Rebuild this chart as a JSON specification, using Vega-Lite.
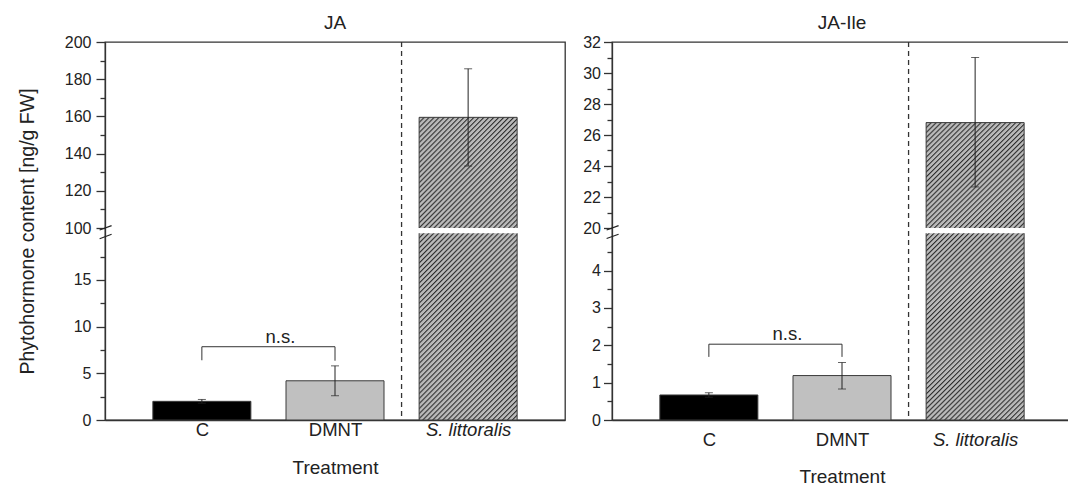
{
"$schema": "https://vega.github.io/schema/vega-lite/v6.json",
"padding": {"left": 16, "top": 13, "right": 0, "bottom": 0},
"spacing": 16,
"datasets": {
 "bars": [
  {"hormone":"JA","treatment":"C","pos":1,"mean":2.0,"lo":1.8,"hi":2.2},
  {"hormone":"JA","treatment":"DMNT","pos":2,"mean":4.2,"lo":2.6,"hi":5.8},
  {"hormone":"JA","treatment":"S. littoralis","pos":3,"mean":159.5,"lo":133.3,"hi":185.6},
  {"hormone":"JA-Ile","treatment":"C","pos":1,"mean":0.67,"lo":0.61,"hi":0.73},
  {"hormone":"JA-Ile","treatment":"DMNT","pos":2,"mean":1.19,"lo":0.83,"hi":1.54},
  {"hormone":"JA-Ile","treatment":"S. littoralis","pos":3,"mean":26.8,"lo":22.65,"hi":31.0}
 ],
 "bracket": [
  {"hormone":"JA","px":1,"py":6.4,"ord":1},{"hormone":"JA","px":1,"py":7.85,"ord":2},{"hormone":"JA","px":2,"py":7.85,"ord":3},{"hormone":"JA","px":2,"py":6.35,"ord":4},
  {"hormone":"JA-Ile","px":1,"py":1.69,"ord":1},{"hormone":"JA-Ile","px":1,"py":2.03,"ord":2},{"hormone":"JA-Ile","px":2,"py":2.03,"ord":3},{"hormone":"JA-Ile","px":2,"py":1.69,"ord":4}
 ],
 "notes": [
  {"hormone":"JA","lx":1.59,"ly":8.2,"txt":"n.s."},
  {"hormone":"JA-Ile","lx":1.59,"ly":2.14,"txt":"n.s."}
 ],
 "breaks": [
  {"hormone":"JA","bx":0.232,"bx2":0.322,"by":69.8,"by2":101.3},
  {"hormone":"JA","bx":0.232,"bx2":0.322,"by":19.42,"by2":19.9},
  {"hormone":"JA-Ile","bx":0.232,"bx2":0.322,"by":14.34,"by2":20.15},
  {"hormone":"JA-Ile","bx":0.232,"bx2":0.322,"by":4.86,"by2":4.975}
 ]
},
"config": {
 "font": "Liberation Sans",
 "view": {"stroke": "#333333", "strokeWidth": 1.3},
 "axis": {"domainColor":"#333333","domainWidth":1.3,"tickColor":"#333333","tickWidth":1.3,"labelColor":"#222222","titleColor":"#222222","titleFontWeight":"normal","grid":false,"labelFont":"Liberation Sans","titleFont":"Liberation Sans","labelOverlap":false,"labelFlush":false},
 "title": {"fontSize":19,"fontWeight":"normal","color":"#222222","font":"Liberation Sans","offset":1}
},
"hconcat": [
 {
  "width": 460, "height": 378,
  "title": {"text": "JA"},
  "resolve": {"axis": {"y": "independent"}},
  "layer": [
   {"data": {"values": [{}]}, "mark": {"type": "rule", "strokeDash": [5, 4], "color": "#333333", "strokeWidth": 1.3}, "encoding": {"x": {"datum": 2.5, "type": "quantitative"}}},
   {"data": {"name": "bars"}, "transform": [{"filter": "datum.hormone == 'JA' && datum.pos < 3"}],
    "mark": {"type": "bar", "orient": "vertical", "width": 98, "stroke": "#3a3a3a", "strokeWidth": 1},
    "encoding": {
     "x": {"field": "pos", "type": "quantitative", "scale": {"domain": [0.31, 3.69], "nice": false, "zero": false},
       "axis": {"values": [1, 2, 3], "labelExpr": "datum.value == 1 ? 'C' : datum.value == 2 ? 'DMNT' : 'S. littoralis'", "labelFontStyle": {"condition": {"test": "datum.value == 3", "value": "italic"}, "value": "normal"}, "ticks": false, "labelPadding": 0, "labelFontSize": 18.5, "title": "Treatment", "titleFontSize": 19, "titlePadding": 20}},
     "y": {"field": "mean", "type": "quantitative", "scale": {"domain": [0, 20, 100, 200], "range": [378, 191.3, 186, 0], "nice": false, "zero": false},
       "axis": {"orient": "left", "values": [0, 5, 10, 15, 100, 120, 140, 160, 180, 200], "tickSize": 9, "labelPadding": 5, "labelFontSize": 16, "title": "Phytohormone content [ng/g FW]", "titleFontSize": 19.5, "titlePadding": 27}},
     "y2": {"datum": 0},
     "fill": {"field": "treatment", "type": "nominal", "scale": {"domain": ["C", "DMNT"], "range": ["#000000", "#c0c0c0"]}, "legend": null}
    }},
   {"data": {"name": "bars"}, "transform": [{"filter": "datum.hormone == 'JA' && datum.pos == 3"}],
    "mark": {"type": "bar", "orient": "vertical", "width": 98, "stroke": "#3a3a3a", "strokeWidth": 1,
     "fill": {"gradient":"linear","x1":0,"y1":0,"x2":0.3916,"y2":1.1987,"stops":[
{"offset":0,"color":"#2e2e2e"},{"offset":0.0045,"color":"#b9b9b9"},{"offset":0.0095,"color":"#b9b9b9"},
{"offset":0.0125,"color":"#2e2e2e"},{"offset":0.017,"color":"#b9b9b9"},{"offset":0.022,"color":"#b9b9b9"},
{"offset":0.025,"color":"#2e2e2e"},{"offset":0.0295,"color":"#b9b9b9"},{"offset":0.0345,"color":"#b9b9b9"},
{"offset":0.0375,"color":"#2e2e2e"},{"offset":0.042,"color":"#b9b9b9"},{"offset":0.047,"color":"#b9b9b9"},
{"offset":0.05,"color":"#2e2e2e"},{"offset":0.0545,"color":"#b9b9b9"},{"offset":0.0595,"color":"#b9b9b9"},
{"offset":0.0625,"color":"#2e2e2e"},{"offset":0.067,"color":"#b9b9b9"},{"offset":0.072,"color":"#b9b9b9"},
{"offset":0.075,"color":"#2e2e2e"},{"offset":0.0795,"color":"#b9b9b9"},{"offset":0.0845,"color":"#b9b9b9"},
{"offset":0.0875,"color":"#2e2e2e"},{"offset":0.092,"color":"#b9b9b9"},{"offset":0.097,"color":"#b9b9b9"},
{"offset":0.1,"color":"#2e2e2e"},{"offset":0.1045,"color":"#b9b9b9"},{"offset":0.1095,"color":"#b9b9b9"},
{"offset":0.1125,"color":"#2e2e2e"},{"offset":0.117,"color":"#b9b9b9"},{"offset":0.122,"color":"#b9b9b9"},
{"offset":0.125,"color":"#2e2e2e"},{"offset":0.1295,"color":"#b9b9b9"},{"offset":0.1345,"color":"#b9b9b9"},
{"offset":0.1375,"color":"#2e2e2e"},{"offset":0.142,"color":"#b9b9b9"},{"offset":0.147,"color":"#b9b9b9"},
{"offset":0.15,"color":"#2e2e2e"},{"offset":0.1545,"color":"#b9b9b9"},{"offset":0.1595,"color":"#b9b9b9"},
{"offset":0.1625,"color":"#2e2e2e"},{"offset":0.167,"color":"#b9b9b9"},{"offset":0.172,"color":"#b9b9b9"},
{"offset":0.175,"color":"#2e2e2e"},{"offset":0.1795,"color":"#b9b9b9"},{"offset":0.1845,"color":"#b9b9b9"},
{"offset":0.1875,"color":"#2e2e2e"},{"offset":0.192,"color":"#b9b9b9"},{"offset":0.197,"color":"#b9b9b9"},
{"offset":0.2,"color":"#2e2e2e"},{"offset":0.2045,"color":"#b9b9b9"},{"offset":0.2095,"color":"#b9b9b9"},
{"offset":0.2125,"color":"#2e2e2e"},{"offset":0.217,"color":"#b9b9b9"},{"offset":0.222,"color":"#b9b9b9"},
{"offset":0.225,"color":"#2e2e2e"},{"offset":0.2295,"color":"#b9b9b9"},{"offset":0.2345,"color":"#b9b9b9"},
{"offset":0.2375,"color":"#2e2e2e"},{"offset":0.242,"color":"#b9b9b9"},{"offset":0.247,"color":"#b9b9b9"},
{"offset":0.25,"color":"#2e2e2e"},{"offset":0.2545,"color":"#b9b9b9"},{"offset":0.2595,"color":"#b9b9b9"},
{"offset":0.2625,"color":"#2e2e2e"},{"offset":0.267,"color":"#b9b9b9"},{"offset":0.272,"color":"#b9b9b9"},
{"offset":0.275,"color":"#2e2e2e"},{"offset":0.2795,"color":"#b9b9b9"},{"offset":0.2845,"color":"#b9b9b9"},
{"offset":0.2875,"color":"#2e2e2e"},{"offset":0.292,"color":"#b9b9b9"},{"offset":0.297,"color":"#b9b9b9"},
{"offset":0.3,"color":"#2e2e2e"},{"offset":0.3045,"color":"#b9b9b9"},{"offset":0.3095,"color":"#b9b9b9"},
{"offset":0.3125,"color":"#2e2e2e"},{"offset":0.317,"color":"#b9b9b9"},{"offset":0.322,"color":"#b9b9b9"},
{"offset":0.325,"color":"#2e2e2e"},{"offset":0.3295,"color":"#b9b9b9"},{"offset":0.3345,"color":"#b9b9b9"},
{"offset":0.3375,"color":"#2e2e2e"},{"offset":0.342,"color":"#b9b9b9"},{"offset":0.347,"color":"#b9b9b9"},
{"offset":0.35,"color":"#2e2e2e"},{"offset":0.3545,"color":"#b9b9b9"},{"offset":0.3595,"color":"#b9b9b9"},
{"offset":0.3625,"color":"#2e2e2e"},{"offset":0.367,"color":"#b9b9b9"},{"offset":0.372,"color":"#b9b9b9"},
{"offset":0.375,"color":"#2e2e2e"},{"offset":0.3795,"color":"#b9b9b9"},{"offset":0.3845,"color":"#b9b9b9"},
{"offset":0.3875,"color":"#2e2e2e"},{"offset":0.392,"color":"#b9b9b9"},{"offset":0.397,"color":"#b9b9b9"},
{"offset":0.4,"color":"#2e2e2e"},{"offset":0.4045,"color":"#b9b9b9"},{"offset":0.4095,"color":"#b9b9b9"},
{"offset":0.4125,"color":"#2e2e2e"},{"offset":0.417,"color":"#b9b9b9"},{"offset":0.422,"color":"#b9b9b9"},
{"offset":0.425,"color":"#2e2e2e"},{"offset":0.4295,"color":"#b9b9b9"},{"offset":0.4345,"color":"#b9b9b9"},
{"offset":0.4375,"color":"#2e2e2e"},{"offset":0.442,"color":"#b9b9b9"},{"offset":0.447,"color":"#b9b9b9"},
{"offset":0.45,"color":"#2e2e2e"},{"offset":0.4545,"color":"#b9b9b9"},{"offset":0.4595,"color":"#b9b9b9"},
{"offset":0.4625,"color":"#2e2e2e"},{"offset":0.467,"color":"#b9b9b9"},{"offset":0.472,"color":"#b9b9b9"},
{"offset":0.475,"color":"#2e2e2e"},{"offset":0.4795,"color":"#b9b9b9"},{"offset":0.4845,"color":"#b9b9b9"},
{"offset":0.4875,"color":"#2e2e2e"},{"offset":0.492,"color":"#b9b9b9"},{"offset":0.497,"color":"#b9b9b9"},
{"offset":0.5,"color":"#2e2e2e"},{"offset":0.5045,"color":"#b9b9b9"},{"offset":0.5095,"color":"#b9b9b9"},
{"offset":0.5125,"color":"#2e2e2e"},{"offset":0.517,"color":"#b9b9b9"},{"offset":0.522,"color":"#b9b9b9"},
{"offset":0.525,"color":"#2e2e2e"},{"offset":0.5295,"color":"#b9b9b9"},{"offset":0.5345,"color":"#b9b9b9"},
{"offset":0.5375,"color":"#2e2e2e"},{"offset":0.542,"color":"#b9b9b9"},{"offset":0.547,"color":"#b9b9b9"},
{"offset":0.55,"color":"#2e2e2e"},{"offset":0.5545,"color":"#b9b9b9"},{"offset":0.5595,"color":"#b9b9b9"},
{"offset":0.5625,"color":"#2e2e2e"},{"offset":0.567,"color":"#b9b9b9"},{"offset":0.572,"color":"#b9b9b9"},
{"offset":0.575,"color":"#2e2e2e"},{"offset":0.5795,"color":"#b9b9b9"},{"offset":0.5845,"color":"#b9b9b9"},
{"offset":0.5875,"color":"#2e2e2e"},{"offset":0.592,"color":"#b9b9b9"},{"offset":0.597,"color":"#b9b9b9"},
{"offset":0.6,"color":"#2e2e2e"},{"offset":0.6045,"color":"#b9b9b9"},{"offset":0.6095,"color":"#b9b9b9"},
{"offset":0.6125,"color":"#2e2e2e"},{"offset":0.617,"color":"#b9b9b9"},{"offset":0.622,"color":"#b9b9b9"},
{"offset":0.625,"color":"#2e2e2e"},{"offset":0.6295,"color":"#b9b9b9"},{"offset":0.6345,"color":"#b9b9b9"},
{"offset":0.6375,"color":"#2e2e2e"},{"offset":0.642,"color":"#b9b9b9"},{"offset":0.647,"color":"#b9b9b9"},
{"offset":0.65,"color":"#2e2e2e"},{"offset":0.6545,"color":"#b9b9b9"},{"offset":0.6595,"color":"#b9b9b9"},
{"offset":0.6625,"color":"#2e2e2e"},{"offset":0.667,"color":"#b9b9b9"},{"offset":0.672,"color":"#b9b9b9"},
{"offset":0.675,"color":"#2e2e2e"},{"offset":0.6795,"color":"#b9b9b9"},{"offset":0.6845,"color":"#b9b9b9"},
{"offset":0.6875,"color":"#2e2e2e"},{"offset":0.692,"color":"#b9b9b9"},{"offset":0.697,"color":"#b9b9b9"},
{"offset":0.7,"color":"#2e2e2e"},{"offset":0.7045,"color":"#b9b9b9"},{"offset":0.7095,"color":"#b9b9b9"},
{"offset":0.7125,"color":"#2e2e2e"},{"offset":0.717,"color":"#b9b9b9"},{"offset":0.722,"color":"#b9b9b9"},
{"offset":0.725,"color":"#2e2e2e"},{"offset":0.7295,"color":"#b9b9b9"},{"offset":0.7345,"color":"#b9b9b9"},
{"offset":0.7375,"color":"#2e2e2e"},{"offset":0.742,"color":"#b9b9b9"},{"offset":0.747,"color":"#b9b9b9"},
{"offset":0.75,"color":"#2e2e2e"},{"offset":0.7545,"color":"#b9b9b9"},{"offset":0.7595,"color":"#b9b9b9"},
{"offset":0.7625,"color":"#2e2e2e"},{"offset":0.767,"color":"#b9b9b9"},{"offset":0.772,"color":"#b9b9b9"},
{"offset":0.775,"color":"#2e2e2e"},{"offset":0.7795,"color":"#b9b9b9"},{"offset":0.7845,"color":"#b9b9b9"},
{"offset":0.7875,"color":"#2e2e2e"},{"offset":0.792,"color":"#b9b9b9"},{"offset":0.797,"color":"#b9b9b9"},
{"offset":0.8,"color":"#2e2e2e"},{"offset":0.8045,"color":"#b9b9b9"},{"offset":0.8095,"color":"#b9b9b9"},
{"offset":0.8125,"color":"#2e2e2e"},{"offset":0.817,"color":"#b9b9b9"},{"offset":0.822,"color":"#b9b9b9"},
{"offset":0.825,"color":"#2e2e2e"},{"offset":0.8295,"color":"#b9b9b9"},{"offset":0.8345,"color":"#b9b9b9"},
{"offset":0.8375,"color":"#2e2e2e"},{"offset":0.842,"color":"#b9b9b9"},{"offset":0.847,"color":"#b9b9b9"},
{"offset":0.85,"color":"#2e2e2e"},{"offset":0.8545,"color":"#b9b9b9"},{"offset":0.8595,"color":"#b9b9b9"},
{"offset":0.8625,"color":"#2e2e2e"},{"offset":0.867,"color":"#b9b9b9"},{"offset":0.872,"color":"#b9b9b9"},
{"offset":0.875,"color":"#2e2e2e"},{"offset":0.8795,"color":"#b9b9b9"},{"offset":0.8845,"color":"#b9b9b9"},
{"offset":0.8875,"color":"#2e2e2e"},{"offset":0.892,"color":"#b9b9b9"},{"offset":0.897,"color":"#b9b9b9"},
{"offset":0.9,"color":"#2e2e2e"},{"offset":0.9045,"color":"#b9b9b9"},{"offset":0.9095,"color":"#b9b9b9"},
{"offset":0.9125,"color":"#2e2e2e"},{"offset":0.917,"color":"#b9b9b9"},{"offset":0.922,"color":"#b9b9b9"},
{"offset":0.925,"color":"#2e2e2e"},{"offset":0.9295,"color":"#b9b9b9"},{"offset":0.9345,"color":"#b9b9b9"},
{"offset":0.9375,"color":"#2e2e2e"},{"offset":0.942,"color":"#b9b9b9"},{"offset":0.947,"color":"#b9b9b9"},
{"offset":0.95,"color":"#2e2e2e"},{"offset":0.9545,"color":"#b9b9b9"},{"offset":0.9595,"color":"#b9b9b9"},
{"offset":0.9625,"color":"#2e2e2e"},{"offset":0.967,"color":"#b9b9b9"},{"offset":0.972,"color":"#b9b9b9"},
{"offset":0.975,"color":"#2e2e2e"},{"offset":0.9795,"color":"#b9b9b9"},{"offset":0.9845,"color":"#b9b9b9"},
{"offset":0.9875,"color":"#2e2e2e"},{"offset":0.992,"color":"#b9b9b9"},{"offset":1,"color":"#b9b9b9"}
]}},
    "encoding": {"x": {"field": "pos", "type": "quantitative"}, "y": {"field": "mean", "type": "quantitative", "axis": null}, "y2": {"datum": 0}}},
   {"data": {"values": [{}]}, "mark": {"type": "bar", "orient": "vertical", "width": 101, "fill": "#ffffff", "strokeWidth": 0},
    "encoding": {"x": {"datum": 3}, "y": {"datum": 20, "axis": null}, "y2": {"datum": 100}}},
   {"data": {"values": [{}]}, "mark": {"type": "bar", "orient": "vertical", "width": 6, "fill": "#ffffff", "strokeWidth": 0, "clip": false},
    "encoding": {"x": {"datum": 0.31}, "y": {"datum": 20, "axis": null}, "y2": {"datum": 100}}},
   {"data": {"name": "bars"}, "transform": [{"filter": "datum.hormone == 'JA'"}],
    "mark": {"type": "rule", "color": "#222222", "strokeWidth": 1},
    "encoding": {"x": {"field": "pos", "type": "quantitative"}, "y": {"field": "lo", "type": "quantitative", "axis": {"orient": "left", "values": [2.5, 7.5, 12.5, 17.5, 110, 130, 150, 170, 190], "labels": false, "domain": false, "tickSize": 5, "title": null}}, "y2": {"field": "hi"}}},
   {"data": {"name": "bars"}, "transform": [{"filter": "datum.hormone == 'JA'"}, {"fold": ["lo", "hi"], "as": ["k", "v"]}],
    "mark": {"type": "tick", "orient": "horizontal", "size": 8, "thickness": 1, "color": "#222222"},
    "encoding": {"x": {"field": "pos", "type": "quantitative"}, "y": {"field": "v", "type": "quantitative", "axis": null}}},
   {"data": {"name": "bracket"}, "transform": [{"filter": "datum.hormone == 'JA'"}],
    "mark": {"type": "line", "color": "#333333", "strokeWidth": 1},
    "encoding": {"x": {"field": "px", "type": "quantitative"}, "y": {"field": "py", "type": "quantitative", "axis": null}, "order": {"field": "ord", "type": "quantitative"}}},
   {"data": {"name": "notes"}, "transform": [{"filter": "datum.hormone == 'JA'"}],
    "mark": {"type": "text", "fontSize": 18.5, "baseline": "alphabetic", "align": "center", "color": "#222222"},
    "encoding": {"x": {"field": "lx", "type": "quantitative"}, "y": {"field": "ly", "type": "quantitative", "axis": null}, "text": {"field": "txt"}}},
   {"data": {"name": "breaks"}, "transform": [{"filter": "datum.hormone == 'JA'"}],
    "mark": {"type": "rule", "color": "#222222", "strokeWidth": 1.2, "clip": false},
    "encoding": {"x": {"field": "bx", "type": "quantitative"}, "x2": {"field": "bx2"}, "y": {"field": "by", "type": "quantitative", "axis": null}, "y2": {"field": "by2"}}}
  ]
 },
 {
  "width": 460, "height": 378,
  "title": {"text": "JA-Ile"},
  "resolve": {"axis": {"y": "independent"}},
  "layer": [
   {"data": {"values": [{}]}, "mark": {"type": "rule", "strokeDash": [5, 4], "color": "#333333", "strokeWidth": 1.3}, "encoding": {"x": {"datum": 2.5, "type": "quantitative"}}},
   {"data": {"name": "bars"}, "transform": [{"filter": "datum.hormone == 'JA-Ile' && datum.pos < 3"}],
    "mark": {"type": "bar", "orient": "vertical", "width": 98, "stroke": "#3a3a3a", "strokeWidth": 1},
    "encoding": {
     "x": {"field": "pos", "type": "quantitative", "scale": {"domain": [0.31, 3.69], "nice": false, "zero": false},
       "axis": {"values": [1, 2, 3], "labelExpr": "datum.value == 1 ? 'C' : datum.value == 2 ? 'DMNT' : 'S. littoralis'", "labelFontStyle": {"condition": {"test": "datum.value == 3", "value": "italic"}, "value": "normal"}, "ticks": false, "labelPadding": 10, "labelFontSize": 18.5, "title": "Treatment", "titleFontSize": 19, "titlePadding": 19}},
     "y": {"field": "mean", "type": "quantitative", "scale": {"domain": [0, 5, 20, 32], "range": [378, 191.3, 186, 0], "nice": false, "zero": false},
       "axis": {"orient": "left", "values": [0, 1, 2, 3, 4, 20, 22, 24, 26, 28, 30, 32], "tickSize": 8.5, "labelPadding": 3, "labelFontSize": 16, "title": null}},
     "y2": {"datum": 0},
     "fill": {"field": "treatment", "type": "nominal", "scale": {"domain": ["C", "DMNT"], "range": ["#000000", "#c0c0c0"]}, "legend": null}
    }},
   {"data": {"name": "bars"}, "transform": [{"filter": "datum.hormone == 'JA-Ile' && datum.pos == 3"}],
    "mark": {"type": "bar", "orient": "vertical", "width": 98, "stroke": "#3a3a3a", "strokeWidth": 1,
     "fill": {"gradient":"linear","x1":0,"y1":0,"x2":0.3916,"y2":1.1987,"stops":[
{"offset":0,"color":"#2e2e2e"},{"offset":0.0045,"color":"#b9b9b9"},{"offset":0.0095,"color":"#b9b9b9"},
{"offset":0.0125,"color":"#2e2e2e"},{"offset":0.017,"color":"#b9b9b9"},{"offset":0.022,"color":"#b9b9b9"},
{"offset":0.025,"color":"#2e2e2e"},{"offset":0.0295,"color":"#b9b9b9"},{"offset":0.0345,"color":"#b9b9b9"},
{"offset":0.0375,"color":"#2e2e2e"},{"offset":0.042,"color":"#b9b9b9"},{"offset":0.047,"color":"#b9b9b9"},
{"offset":0.05,"color":"#2e2e2e"},{"offset":0.0545,"color":"#b9b9b9"},{"offset":0.0595,"color":"#b9b9b9"},
{"offset":0.0625,"color":"#2e2e2e"},{"offset":0.067,"color":"#b9b9b9"},{"offset":0.072,"color":"#b9b9b9"},
{"offset":0.075,"color":"#2e2e2e"},{"offset":0.0795,"color":"#b9b9b9"},{"offset":0.0845,"color":"#b9b9b9"},
{"offset":0.0875,"color":"#2e2e2e"},{"offset":0.092,"color":"#b9b9b9"},{"offset":0.097,"color":"#b9b9b9"},
{"offset":0.1,"color":"#2e2e2e"},{"offset":0.1045,"color":"#b9b9b9"},{"offset":0.1095,"color":"#b9b9b9"},
{"offset":0.1125,"color":"#2e2e2e"},{"offset":0.117,"color":"#b9b9b9"},{"offset":0.122,"color":"#b9b9b9"},
{"offset":0.125,"color":"#2e2e2e"},{"offset":0.1295,"color":"#b9b9b9"},{"offset":0.1345,"color":"#b9b9b9"},
{"offset":0.1375,"color":"#2e2e2e"},{"offset":0.142,"color":"#b9b9b9"},{"offset":0.147,"color":"#b9b9b9"},
{"offset":0.15,"color":"#2e2e2e"},{"offset":0.1545,"color":"#b9b9b9"},{"offset":0.1595,"color":"#b9b9b9"},
{"offset":0.1625,"color":"#2e2e2e"},{"offset":0.167,"color":"#b9b9b9"},{"offset":0.172,"color":"#b9b9b9"},
{"offset":0.175,"color":"#2e2e2e"},{"offset":0.1795,"color":"#b9b9b9"},{"offset":0.1845,"color":"#b9b9b9"},
{"offset":0.1875,"color":"#2e2e2e"},{"offset":0.192,"color":"#b9b9b9"},{"offset":0.197,"color":"#b9b9b9"},
{"offset":0.2,"color":"#2e2e2e"},{"offset":0.2045,"color":"#b9b9b9"},{"offset":0.2095,"color":"#b9b9b9"},
{"offset":0.2125,"color":"#2e2e2e"},{"offset":0.217,"color":"#b9b9b9"},{"offset":0.222,"color":"#b9b9b9"},
{"offset":0.225,"color":"#2e2e2e"},{"offset":0.2295,"color":"#b9b9b9"},{"offset":0.2345,"color":"#b9b9b9"},
{"offset":0.2375,"color":"#2e2e2e"},{"offset":0.242,"color":"#b9b9b9"},{"offset":0.247,"color":"#b9b9b9"},
{"offset":0.25,"color":"#2e2e2e"},{"offset":0.2545,"color":"#b9b9b9"},{"offset":0.2595,"color":"#b9b9b9"},
{"offset":0.2625,"color":"#2e2e2e"},{"offset":0.267,"color":"#b9b9b9"},{"offset":0.272,"color":"#b9b9b9"},
{"offset":0.275,"color":"#2e2e2e"},{"offset":0.2795,"color":"#b9b9b9"},{"offset":0.2845,"color":"#b9b9b9"},
{"offset":0.2875,"color":"#2e2e2e"},{"offset":0.292,"color":"#b9b9b9"},{"offset":0.297,"color":"#b9b9b9"},
{"offset":0.3,"color":"#2e2e2e"},{"offset":0.3045,"color":"#b9b9b9"},{"offset":0.3095,"color":"#b9b9b9"},
{"offset":0.3125,"color":"#2e2e2e"},{"offset":0.317,"color":"#b9b9b9"},{"offset":0.322,"color":"#b9b9b9"},
{"offset":0.325,"color":"#2e2e2e"},{"offset":0.3295,"color":"#b9b9b9"},{"offset":0.3345,"color":"#b9b9b9"},
{"offset":0.3375,"color":"#2e2e2e"},{"offset":0.342,"color":"#b9b9b9"},{"offset":0.347,"color":"#b9b9b9"},
{"offset":0.35,"color":"#2e2e2e"},{"offset":0.3545,"color":"#b9b9b9"},{"offset":0.3595,"color":"#b9b9b9"},
{"offset":0.3625,"color":"#2e2e2e"},{"offset":0.367,"color":"#b9b9b9"},{"offset":0.372,"color":"#b9b9b9"},
{"offset":0.375,"color":"#2e2e2e"},{"offset":0.3795,"color":"#b9b9b9"},{"offset":0.3845,"color":"#b9b9b9"},
{"offset":0.3875,"color":"#2e2e2e"},{"offset":0.392,"color":"#b9b9b9"},{"offset":0.397,"color":"#b9b9b9"},
{"offset":0.4,"color":"#2e2e2e"},{"offset":0.4045,"color":"#b9b9b9"},{"offset":0.4095,"color":"#b9b9b9"},
{"offset":0.4125,"color":"#2e2e2e"},{"offset":0.417,"color":"#b9b9b9"},{"offset":0.422,"color":"#b9b9b9"},
{"offset":0.425,"color":"#2e2e2e"},{"offset":0.4295,"color":"#b9b9b9"},{"offset":0.4345,"color":"#b9b9b9"},
{"offset":0.4375,"color":"#2e2e2e"},{"offset":0.442,"color":"#b9b9b9"},{"offset":0.447,"color":"#b9b9b9"},
{"offset":0.45,"color":"#2e2e2e"},{"offset":0.4545,"color":"#b9b9b9"},{"offset":0.4595,"color":"#b9b9b9"},
{"offset":0.4625,"color":"#2e2e2e"},{"offset":0.467,"color":"#b9b9b9"},{"offset":0.472,"color":"#b9b9b9"},
{"offset":0.475,"color":"#2e2e2e"},{"offset":0.4795,"color":"#b9b9b9"},{"offset":0.4845,"color":"#b9b9b9"},
{"offset":0.4875,"color":"#2e2e2e"},{"offset":0.492,"color":"#b9b9b9"},{"offset":0.497,"color":"#b9b9b9"},
{"offset":0.5,"color":"#2e2e2e"},{"offset":0.5045,"color":"#b9b9b9"},{"offset":0.5095,"color":"#b9b9b9"},
{"offset":0.5125,"color":"#2e2e2e"},{"offset":0.517,"color":"#b9b9b9"},{"offset":0.522,"color":"#b9b9b9"},
{"offset":0.525,"color":"#2e2e2e"},{"offset":0.5295,"color":"#b9b9b9"},{"offset":0.5345,"color":"#b9b9b9"},
{"offset":0.5375,"color":"#2e2e2e"},{"offset":0.542,"color":"#b9b9b9"},{"offset":0.547,"color":"#b9b9b9"},
{"offset":0.55,"color":"#2e2e2e"},{"offset":0.5545,"color":"#b9b9b9"},{"offset":0.5595,"color":"#b9b9b9"},
{"offset":0.5625,"color":"#2e2e2e"},{"offset":0.567,"color":"#b9b9b9"},{"offset":0.572,"color":"#b9b9b9"},
{"offset":0.575,"color":"#2e2e2e"},{"offset":0.5795,"color":"#b9b9b9"},{"offset":0.5845,"color":"#b9b9b9"},
{"offset":0.5875,"color":"#2e2e2e"},{"offset":0.592,"color":"#b9b9b9"},{"offset":0.597,"color":"#b9b9b9"},
{"offset":0.6,"color":"#2e2e2e"},{"offset":0.6045,"color":"#b9b9b9"},{"offset":0.6095,"color":"#b9b9b9"},
{"offset":0.6125,"color":"#2e2e2e"},{"offset":0.617,"color":"#b9b9b9"},{"offset":0.622,"color":"#b9b9b9"},
{"offset":0.625,"color":"#2e2e2e"},{"offset":0.6295,"color":"#b9b9b9"},{"offset":0.6345,"color":"#b9b9b9"},
{"offset":0.6375,"color":"#2e2e2e"},{"offset":0.642,"color":"#b9b9b9"},{"offset":0.647,"color":"#b9b9b9"},
{"offset":0.65,"color":"#2e2e2e"},{"offset":0.6545,"color":"#b9b9b9"},{"offset":0.6595,"color":"#b9b9b9"},
{"offset":0.6625,"color":"#2e2e2e"},{"offset":0.667,"color":"#b9b9b9"},{"offset":0.672,"color":"#b9b9b9"},
{"offset":0.675,"color":"#2e2e2e"},{"offset":0.6795,"color":"#b9b9b9"},{"offset":0.6845,"color":"#b9b9b9"},
{"offset":0.6875,"color":"#2e2e2e"},{"offset":0.692,"color":"#b9b9b9"},{"offset":0.697,"color":"#b9b9b9"},
{"offset":0.7,"color":"#2e2e2e"},{"offset":0.7045,"color":"#b9b9b9"},{"offset":0.7095,"color":"#b9b9b9"},
{"offset":0.7125,"color":"#2e2e2e"},{"offset":0.717,"color":"#b9b9b9"},{"offset":0.722,"color":"#b9b9b9"},
{"offset":0.725,"color":"#2e2e2e"},{"offset":0.7295,"color":"#b9b9b9"},{"offset":0.7345,"color":"#b9b9b9"},
{"offset":0.7375,"color":"#2e2e2e"},{"offset":0.742,"color":"#b9b9b9"},{"offset":0.747,"color":"#b9b9b9"},
{"offset":0.75,"color":"#2e2e2e"},{"offset":0.7545,"color":"#b9b9b9"},{"offset":0.7595,"color":"#b9b9b9"},
{"offset":0.7625,"color":"#2e2e2e"},{"offset":0.767,"color":"#b9b9b9"},{"offset":0.772,"color":"#b9b9b9"},
{"offset":0.775,"color":"#2e2e2e"},{"offset":0.7795,"color":"#b9b9b9"},{"offset":0.7845,"color":"#b9b9b9"},
{"offset":0.7875,"color":"#2e2e2e"},{"offset":0.792,"color":"#b9b9b9"},{"offset":0.797,"color":"#b9b9b9"},
{"offset":0.8,"color":"#2e2e2e"},{"offset":0.8045,"color":"#b9b9b9"},{"offset":0.8095,"color":"#b9b9b9"},
{"offset":0.8125,"color":"#2e2e2e"},{"offset":0.817,"color":"#b9b9b9"},{"offset":0.822,"color":"#b9b9b9"},
{"offset":0.825,"color":"#2e2e2e"},{"offset":0.8295,"color":"#b9b9b9"},{"offset":0.8345,"color":"#b9b9b9"},
{"offset":0.8375,"color":"#2e2e2e"},{"offset":0.842,"color":"#b9b9b9"},{"offset":0.847,"color":"#b9b9b9"},
{"offset":0.85,"color":"#2e2e2e"},{"offset":0.8545,"color":"#b9b9b9"},{"offset":0.8595,"color":"#b9b9b9"},
{"offset":0.8625,"color":"#2e2e2e"},{"offset":0.867,"color":"#b9b9b9"},{"offset":0.872,"color":"#b9b9b9"},
{"offset":0.875,"color":"#2e2e2e"},{"offset":0.8795,"color":"#b9b9b9"},{"offset":0.8845,"color":"#b9b9b9"},
{"offset":0.8875,"color":"#2e2e2e"},{"offset":0.892,"color":"#b9b9b9"},{"offset":0.897,"color":"#b9b9b9"},
{"offset":0.9,"color":"#2e2e2e"},{"offset":0.9045,"color":"#b9b9b9"},{"offset":0.9095,"color":"#b9b9b9"},
{"offset":0.9125,"color":"#2e2e2e"},{"offset":0.917,"color":"#b9b9b9"},{"offset":0.922,"color":"#b9b9b9"},
{"offset":0.925,"color":"#2e2e2e"},{"offset":0.9295,"color":"#b9b9b9"},{"offset":0.9345,"color":"#b9b9b9"},
{"offset":0.9375,"color":"#2e2e2e"},{"offset":0.942,"color":"#b9b9b9"},{"offset":0.947,"color":"#b9b9b9"},
{"offset":0.95,"color":"#2e2e2e"},{"offset":0.9545,"color":"#b9b9b9"},{"offset":0.9595,"color":"#b9b9b9"},
{"offset":0.9625,"color":"#2e2e2e"},{"offset":0.967,"color":"#b9b9b9"},{"offset":0.972,"color":"#b9b9b9"},
{"offset":0.975,"color":"#2e2e2e"},{"offset":0.9795,"color":"#b9b9b9"},{"offset":0.9845,"color":"#b9b9b9"},
{"offset":0.9875,"color":"#2e2e2e"},{"offset":0.992,"color":"#b9b9b9"},{"offset":1,"color":"#b9b9b9"}
]}},
    "encoding": {"x": {"field": "pos", "type": "quantitative"}, "y": {"field": "mean", "type": "quantitative", "axis": null}, "y2": {"datum": 0}}},
   {"data": {"values": [{}]}, "mark": {"type": "bar", "orient": "vertical", "width": 101, "fill": "#ffffff", "strokeWidth": 0},
    "encoding": {"x": {"datum": 3}, "y": {"datum": 5, "axis": null}, "y2": {"datum": 20}}},
   {"data": {"values": [{}]}, "mark": {"type": "bar", "orient": "vertical", "width": 6, "fill": "#ffffff", "strokeWidth": 0, "clip": false},
    "encoding": {"x": {"datum": 0.31}, "y": {"datum": 5, "axis": null}, "y2": {"datum": 20}}},
   {"data": {"name": "bars"}, "transform": [{"filter": "datum.hormone == 'JA-Ile'"}],
    "mark": {"type": "rule", "color": "#222222", "strokeWidth": 1},
    "encoding": {"x": {"field": "pos", "type": "quantitative"}, "y": {"field": "lo", "type": "quantitative", "axis": {"orient": "left", "values": [0.5, 1.5, 2.5, 3.5, 4.5, 21, 23, 25, 27, 29, 31], "labels": false, "domain": false, "tickSize": 5, "title": null}}, "y2": {"field": "hi"}}},
   {"data": {"name": "bars"}, "transform": [{"filter": "datum.hormone == 'JA-Ile'"}, {"fold": ["lo", "hi"], "as": ["k", "v"]}],
    "mark": {"type": "tick", "orient": "horizontal", "size": 8, "thickness": 1, "color": "#222222"},
    "encoding": {"x": {"field": "pos", "type": "quantitative"}, "y": {"field": "v", "type": "quantitative", "axis": null}}},
   {"data": {"name": "bracket"}, "transform": [{"filter": "datum.hormone == 'JA-Ile'"}],
    "mark": {"type": "line", "color": "#333333", "strokeWidth": 1},
    "encoding": {"x": {"field": "px", "type": "quantitative"}, "y": {"field": "py", "type": "quantitative", "axis": null}, "order": {"field": "ord", "type": "quantitative"}}},
   {"data": {"name": "notes"}, "transform": [{"filter": "datum.hormone == 'JA-Ile'"}],
    "mark": {"type": "text", "fontSize": 18.5, "baseline": "alphabetic", "align": "center", "color": "#222222"},
    "encoding": {"x": {"field": "lx", "type": "quantitative"}, "y": {"field": "ly", "type": "quantitative", "axis": null}, "text": {"field": "txt"}}},
   {"data": {"name": "breaks"}, "transform": [{"filter": "datum.hormone == 'JA-Ile'"}],
    "mark": {"type": "rule", "color": "#222222", "strokeWidth": 1.2, "clip": false},
    "encoding": {"x": {"field": "bx", "type": "quantitative"}, "x2": {"field": "bx2"}, "y": {"field": "by", "type": "quantitative", "axis": null}, "y2": {"field": "by2"}}}
  ]
 }
]
}
